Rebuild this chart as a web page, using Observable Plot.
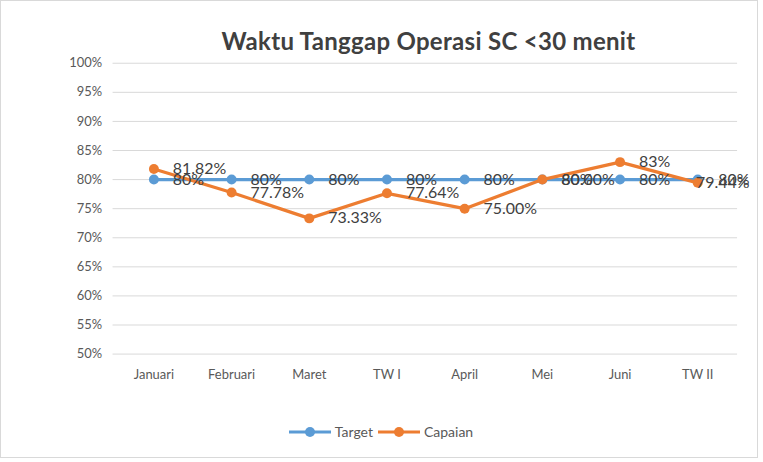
<!DOCTYPE html>
<html><head><meta charset="utf-8">
<script src="https://cdn.jsdelivr.net/npm/d3@7"></script>
<script src="https://cdn.jsdelivr.net/npm/@observablehq/plot@0.6"></script>
<style>
body{margin:0;background:#fff;font-family:Lato,"Open Sans",sans-serif;}
#wrap{position:relative;width:756px;height:456px;border:1px solid #d9d9d9;background:#fff;overflow:visible;}
#title{position:absolute;left:48px;width:759px;top:25px;text-align:center;font-size:24px;font-weight:bold;color:#404040;letter-spacing:0.3px;white-space:nowrap;}
#chart{position:absolute;left:0;top:0;}
#legend{position:absolute;top:422px;left:0;width:759px;display:flex;justify-content:center;gap:4px;font-size:14px;color:#595959;}
.li{display:flex;align-items:center;gap:3px;}
.li svg{display:block}
svg text.lbl{letter-spacing:0.6px;}
</style></head>
<body>
<div id="wrap">
<div id="chart"></div>
<div id="title">Waktu Tanggap Operasi SC &lt;30 menit</div>
<div id="legend"></div>
</div>
<script>
const categories = ["Januari","Februari","Maret","TW I","April","Mei","Juni","TW II"];
const target = [80,80,80,80,80,80,80,80];
const capaian = [81.82,77.78,73.33,77.64,75.00,80.00,83,79.44];
const capaianLabels = ["81.82%","77.78%","73.33%","77.64%","75.00%","80.00%","83%","79.44%"];
const targetLabels = ["80%","80%","80%","80%","80%","80%","80%","80%"];
const yTicks = [50,55,60,65,70,75,80,85,90,95,100];
const seriesNames = ["Target","Capaian"];
const colors = ["#5B9BD5","#ED7D31"];

const tData = categories.map((c,i)=>({c, v:target[i], label:targetLabels[i], last: i === categories.length-1}));
const cData = categories.map((c,i)=>({c, v:capaian[i], label:capaianLabels[i], last: i === categories.length-1}));

const labelOpts = {x: "c", y: "v", text: "label", fontSize: 16, fill: "#404040", className: "lbl"};

const chart = Plot.plot({
  width: 759,
  height: 400,
  marginLeft: 112,
  marginRight: 20,
  marginTop: 62,
  marginBottom: 46,
  style: {fontFamily: "Lato, 'Open Sans', sans-serif", background: "transparent", overflow: "visible"},
  x: {type: "band", domain: categories, padding: 0, label: null},
  y: {domain: [50,100], label: null},
  marks: [
    Plot.gridY(yTicks, {stroke: "#d9d9d9", strokeOpacity: 1, strokeWidth: 1}),
    Plot.axisY(yTicks, {tickSize: 0, tickPadding: 11, tickFormat: d => d + "%", fontSize: 13, fill: "#595959", label: null}),
    Plot.axisX({tickSize: 0, tickPadding: 16, fontSize: 13, fill: "#595959", label: null}),
    Plot.line(tData, {x: "c", y: "v", stroke: colors[0], strokeWidth: 3.2}),
    Plot.dot(tData, {x: "c", y: "v", r: 5, fill: colors[0], stroke: "none"}),
    Plot.line(cData, {x: "c", y: "v", stroke: colors[1], strokeWidth: 3.2}),
    Plot.dot(cData, {x: "c", y: "v", r: 5, fill: colors[1], stroke: "none"}),
    Plot.text(tData.filter(d => !d.last), {...labelOpts, dx: 19, textAnchor: "start"}),
    Plot.text(cData.filter(d => !d.last), {...labelOpts, dx: 19, textAnchor: "start"}),
    Plot.text(tData.filter(d => d.last), {...labelOpts, dx: 52, textAnchor: "end"}),
    Plot.text(cData.filter(d => d.last), {...labelOpts, dx: 52, textAnchor: "end"})
  ]
});
document.getElementById("chart").appendChild(chart);

const legend = document.getElementById("legend");
seriesNames.forEach((n,i)=>{
  const d = document.createElement("div");
  d.className = "li";
  d.innerHTML = `<svg width="44" height="12"><line x1="1" y1="6" x2="43" y2="6" stroke="${colors[i]}" stroke-width="3.2"/><circle cx="22" cy="6" r="5" fill="${colors[i]}"/></svg><span>${n}</span>`;
  legend.appendChild(d);
});
</script>
</body></html>
